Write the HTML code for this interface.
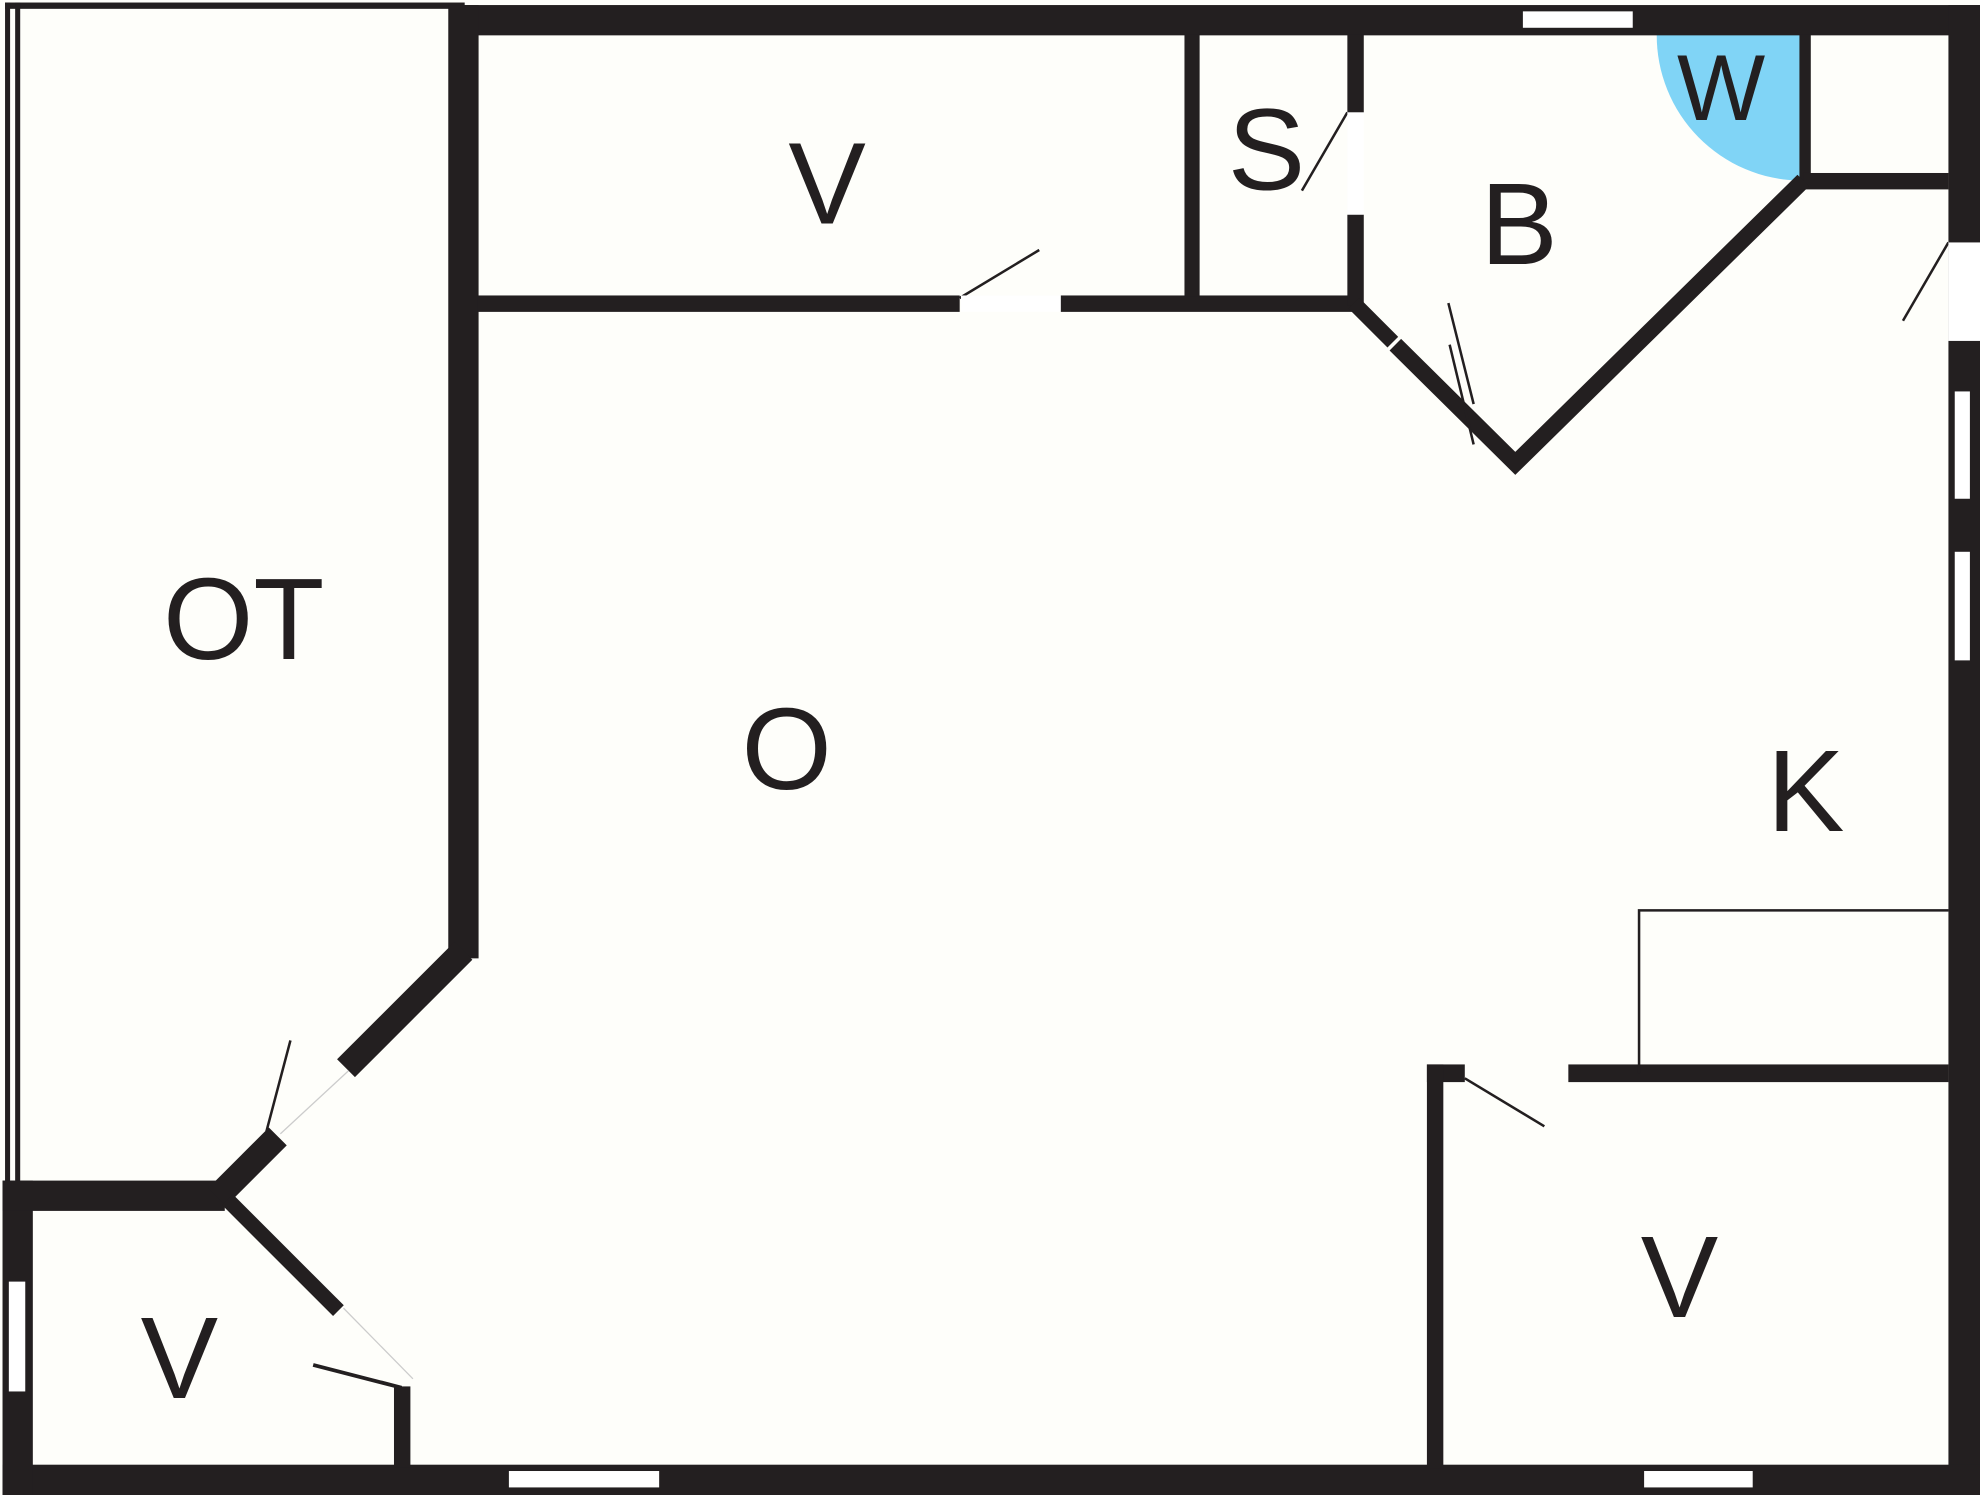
<!DOCTYPE html>
<html><head><style>html,body{margin:0;padding:0;background:#fefefa}svg{display:block}</style></head>
<body>
<svg width="1980" height="1495" viewBox="0 0 1568 1184" preserveAspectRatio="none" xmlns="http://www.w3.org/2000/svg">
<rect width="1568" height="1184" fill="#fefefa"/>
<g fill="#231f20" stroke="none">
<path d="M1312,27 L1426,27 L1426,143 A115,115 0 0 1 1312,27 Z" fill="#80d4f6"/>
<rect x="4" y="2" width="364" height="5"/>
<rect x="4" y="2" width="4" height="935"/>
<rect x="12" y="2" width="4" height="935"/>
<rect x="362" y="4" width="1206" height="24"/>
<rect x="355" y="4" width="24" height="755"/>
<rect x="1543" y="4" width="25" height="1180"/>
<rect x="2" y="1160" width="1566" height="24"/>
<rect x="2" y="935" width="24" height="249"/>
<rect x="2" y="935" width="176" height="24"/>
<rect x="378" y="234" width="382" height="13"/>
<rect x="840" y="234" width="232" height="13"/>
<rect x="938" y="27" width="12" height="208"/>
<rect x="1067" y="27" width="13" height="62"/>
<rect x="1067" y="170" width="13" height="72"/>
<rect x="1425" y="27" width="9" height="118"/>
<rect x="1428" y="137" width="115" height="13"/>
<rect x="1242" y="843" width="301" height="14"/>
<rect x="1130" y="843" width="30" height="14"/>
<rect x="1130" y="843" width="13" height="320"/>
<rect x="312" y="1098" width="13" height="64"/>
</g>
<g stroke="#231f20" fill="none" stroke-linecap="butt">
<line x1="367" y1="753" x2="274" y2="846" stroke-width="20"/>
<line x1="220" y1="900" x2="172" y2="948" stroke-width="20"/>
<line x1="222" y1="898" x2="276" y2="848" stroke-width="1" stroke="#ccc"/>
<line x1="211" y1="896" x2="230" y2="824" stroke-width="2"/>
<line x1="180" y1="950" x2="268" y2="1038" stroke-width="12"/>
<line x1="272" y1="1036" x2="327" y2="1092" stroke-width="1" stroke="#ccc"/>
<line x1="248" y1="1081" x2="318" y2="1099" stroke-width="3"/>
<polyline points="1072,240 1103,271" stroke-width="12"/>
<polyline points="1105,273 1200,367 1428,143" stroke-width="13"/>
<line x1="1147" y1="240" x2="1167" y2="320" stroke-width="2"/>
<line x1="1148" y1="273" x2="1167" y2="352" stroke-width="2"/>
<line x1="760" y1="236" x2="823" y2="198" stroke-width="2"/>
<line x1="1031" y1="151" x2="1067" y2="89" stroke-width="2"/>
<line x1="1507" y1="254" x2="1543" y2="192" stroke-width="2"/>
<line x1="1160" y1="854" x2="1223" y2="892" stroke-width="2"/>
<polyline points="1298,850 1298,721 1543,721" stroke-width="2"/>
</g>
<g fill="#ffffff">
<rect x="761" y="234" width="79" height="13"/>
<rect x="1067" y="89" width="13" height="81"/>
<rect x="1543" y="192" width="25" height="78"/>
<rect x="1206" y="9" width="87" height="13"/>
<rect x="1548" y="310" width="12" height="85"/>
<rect x="1548" y="437" width="12" height="86"/>
<rect x="403" y="1165" width="119" height="13"/>
<rect x="1302" y="1165" width="86" height="13"/>
<rect x="7" y="1015" width="13" height="87"/>
</g>
<g font-family="Liberation Sans, sans-serif" font-size="92" fill="#231f20" text-anchor="middle">
<text x="655" y="177">V</text>
<text x="1003" y="150">S</text>
<text x="1203" y="209">B</text>
<text x="1363" y="95" font-size="74">W</text>
<text x="193" y="522">OT</text>
<text x="623" y="625">O</text>
<text x="1430" y="658">K</text>
<text x="1330" y="1043">V</text>
<text x="142" y="1107">V</text>
</g>
</svg>
</body></html>
